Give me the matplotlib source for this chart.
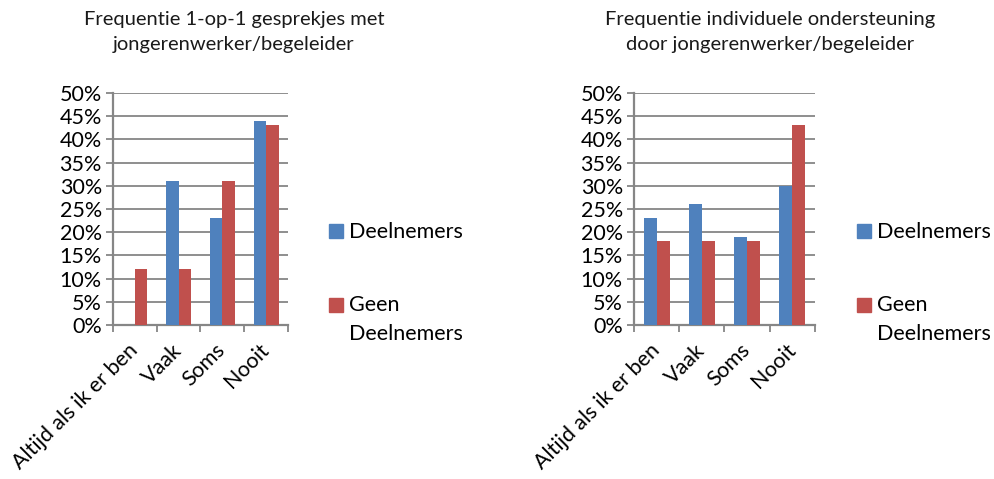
import matplotlib
matplotlib.use("Agg")
import matplotlib.pyplot as plt
from matplotlib.patches import Rectangle
import numpy as np

plt.rcParams['font.family'] = ['Lato', 'DejaVu Sans']

categories = ["Altijd als ik er ben", "Vaak", "Soms", "Nooit"]
series_names = ["Deelnemers", "Geen\nDeelnemers"]
left_deel = [0, 31, 23, 44]
left_geen = [12, 12, 31, 43]
right_deel = [23, 26, 19, 30]
right_geen = [18, 18, 18, 43]
titles = ["Frequentie 1-op-1 gesprekjes met\njongerenwerker/begeleider",
          "Frequentie individuele ondersteuning\ndoor jongerenwerker/begeleider"]
yticks = list(range(0, 55, 5))

blue = "#4F81BD"
red = "#C0504D"
grid = "#868686"

W, H = 995, 479
fig = plt.figure(figsize=(W / 100, H / 100), dpi=100)

def fx(px):
    return px / W

def fy(py):
    return 1 - py / H

axes_pos = [[fx(113), fy(325), fx(288 - 113), (325 - 93) / H],
            [fx(634), fy(325), fx(815 - 634), (325 - 93) / H]]
data = [(left_deel, left_geen), (right_deel, right_geen)]
title_x = [234, 770]
legend_x = [329, 857]

w = 0.286
x = np.arange(len(categories))
for i in range(2):
    ax = fig.add_axes(axes_pos[i])
    d, g = data[i]
    ax.bar(x - w/2, d, w, color=blue, zorder=3)
    ax.bar(x + w/2, g, w, color=red, zorder=3)
    ax.set_ylim(0, 50)
    ax.set_xlim(-0.5, 3.5)
    ax.set_yticks(yticks)
    ax.set_yticklabels([f"{v}%" for v in yticks], fontsize=15.5)
    ax.yaxis.grid(True, color=grid, linewidth=1.3, zorder=0)
    ax.set_axisbelow(True)
    for s in ["top", "right"]:
        ax.spines[s].set_visible(False)
    ax.spines["left"].set_color(grid)
    ax.spines["left"].set_linewidth(1.6)
    ax.spines["bottom"].set_color(grid)
    ax.spines["bottom"].set_linewidth(1.6)
    ax.tick_params(axis='y', color=grid, length=5, width=1.3, pad=3)
    ax.set_xticks(x)
    ax.set_xticklabels(categories, rotation=45, ha='right', va='center',
                       rotation_mode='anchor', fontsize=15.5)
    ax.tick_params(axis='x', which='major', length=0, pad=16)
    ax.set_xticks(np.arange(-0.5, 4.0, 1.0), minor=True)
    ax.tick_params(axis='x', which='minor', length=5, color=grid, width=1.3)
    fig.text(fx(title_x[i]), fy(11), titles[i], ha='center', va='top',
             fontsize=14.5, linespacing=1.6, color="#1a1a1a")
    # legend
    lx = legend_x[i]
    fig.add_artist(Rectangle((fx(lx), fy(238)), fx(14), 14 / H, color=blue,
                             transform=fig.transFigure))
    fig.text(fx(lx + 20), fy(232), series_names[0], ha='left', va='center', fontsize=15.5)
    fig.add_artist(Rectangle((fx(lx), fy(312)), fx(14), 14 / H, color=red,
                             transform=fig.transFigure))
    fig.text(fx(lx + 20), fy(295), series_names[1], ha='left', va='top',
             fontsize=15.5, linespacing=1.55)

fig.savefig("out.png", dpi=100)
